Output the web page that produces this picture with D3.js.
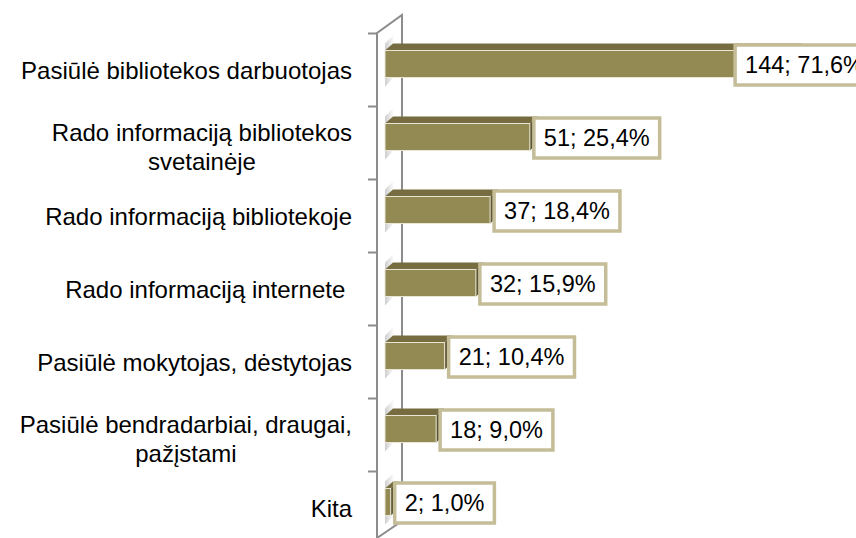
<!DOCTYPE html>
<html>
<head>
<meta charset="utf-8">
<script src="https://cdn.jsdelivr.net/npm/d3@7"></script>
<style>
  body { margin: 0; background: #fff; }
  text { font-family: "Liberation Sans", Arial, sans-serif; white-space: pre; }
</style>
</head>
<body>
<div id="chart"></div>
<script>
const categories = [
    ["Pasiūlė bibliotekos darbuotojas"],
    ["Rado informaciją bibliotekos", "svetainėje"],
    ["Rado informaciją bibliotekoje"],
    ["Rado informaciją internete "],
    ["Pasiūlė mokytojas, dėstytojas"],
    ["Pasiūlė bendradarbiai, draugai,", "pažįstami"],
    ["Kita"]
];
const counts = [144, 51, 37, 32, 21, 18, 2];
const percents = ["71,6%", "25,4%", "18,4%", "15,9%", "10,4%", "9,0%", "1,0%"];

const width = 856;
const height = 538;
const depthX = 8, depthY = 7;

const data = counts.map((c, i) => ({
    key: i,
    lines: categories[i],
    count: c,
    label: `${c}; ${percents[i]}`
}));

const x = d3.scaleLinear().domain([0, 150]).range([385, 811]);
const y = d3.scaleBand()
    .domain(data.map((d) => d.key))
    .range([27.5, 538.5])
    .paddingInner(0.63)
    .paddingOuter(0.315);

const svg = d3.select("#chart")
    .append("svg")
    .attr("width", width)
    .attr("height", height);

const defs = svg.append("defs");
const shade = defs.append("linearGradient")
    .attr("id", "wallShade")
    .attr("x1", "0").attr("x2", "1").attr("y1", "0").attr("y2", "0");
shade.append("stop").attr("offset", "0").attr("stop-color", "#b8b8b8");
shade.append("stop").attr("offset", "1").attr("stop-color", "#ffffff");

// 3D wall of the category axis
const wall = svg.append("g")
    .attr("stroke", "#8c8c8c")
    .attr("stroke-width", 2)
    .attr("fill", "none");
wall.append("path").attr("d", "M377,538 L377,33 L402,15 L402,521 L377,538");

// ticks between categories
const ticks = d3.range(data.length).map((i) => y.range()[0] + y.step() * i + 6);
wall.selectAll(".tick")
    .data(ticks)
    .enter()
    .append("line")
    .attr("x1", 368).attr("x2", 377)
    .attr("y1", (d) => d).attr("y2", (d) => d);

// soft shadows on the wall next to each bar
svg.selectAll(".shadow")
    .data(data)
    .enter()
    .append("path")
    .attr("fill", "url(#wallShade)")
    .attr("opacity", 0.7)
    .attr("d", (d) => {
        const y0 = y(d.key) - depthY - 9;
        const y1 = y(d.key) + y.bandwidth() + 9;
        return `M385,${y0 + 9} L394,${y0} L394,${y1 - 9} L385,${y1} Z`;
    });

// bars
const bars = svg.selectAll(".bar")
    .data(data)
    .enter()
    .append("g")
    .attr("class", "bar");

bars.append("path")
    .attr("fill", "#766c40")
    .attr("d", (d) => {
        const x0 = x(0), x1 = x(d.count), y0 = y(d.key);
        return `M${x0},${y0} L${x0 + depthX},${y0 - depthY} L${x1 + depthX},${y0 - depthY} L${x1},${y0} Z`;
    });

bars.append("path")
    .attr("fill", "#5f5733")
    .attr("d", (d) => {
        const x1 = x(d.count), y0 = y(d.key), h = y.bandwidth();
        return `M${x1},${y0} L${x1 + depthX},${y0 - depthY} L${x1 + depthX},${y0 + h - depthY} L${x1},${y0 + h} Z`;
    });

bars.append("rect")
    .attr("x", x(0))
    .attr("y", (d) => y(d.key))
    .attr("width", (d) => x(d.count) - x(0))
    .attr("height", y.bandwidth())
    .attr("fill", "#938953")
    .attr("stroke", "#e9e6d6")
    .attr("stroke-width", 1);

// category labels
const labels = svg.selectAll(".cat")
    .data(data)
    .enter()
    .append("text")
    .attr("class", "cat")
    .style("font-size", "24px")
    .attr("fill", "#000");

labels.each(function (d) {
    const t = d3.select(this);
    const cy = y(d.key) + y.bandwidth() / 2 + (d.lines.length > 1 ? 10 : 7);
    const lineH = 29;
    d.lines.forEach((line, j) => {
        t.append("tspan")
            .attr("x", 0)
            .attr("y", cy + (j - (d.lines.length - 1) / 2) * lineH)
            .attr("dy", "0.35em")
            .text(line);
    });
    const w = d3.max(t.selectAll("tspan").nodes(), (n) => n.getComputedTextLength());
    t.selectAll("tspan")
        .attr("x", 352 - w / 2)
        .attr("text-anchor", "middle");
});

// value labels in boxes
const vl = svg.selectAll(".val")
    .data(data)
    .enter()
    .append("g")
    .attr("class", "val");

vl.each(function (d) {
    const g = d3.select(this);
    const rect = g.append("rect");
    const txt = g.append("text")
        .style("font-size", "23.5px")
        .attr("fill", "#000")
        .attr("dy", "0.35em")
        .text(d.label);
    const tw = txt.node().getComputedTextLength();
    const bw = tw + 20, bh = 40;
    const cy = y(d.key) + y.bandwidth() / 2 + 1;
    const bx = Math.min(x(d.count) + 4, width - bw + 18);
    rect.attr("x", bx)
        .attr("y", cy - bh / 2)
        .attr("width", bw)
        .attr("height", bh)
        .attr("fill", "#fff")
        .attr("stroke", "#c4bd97")
        .attr("stroke-width", 3.5);
    txt.attr("x", bx + 10).attr("y", cy);
});
</script>
</body>
</html>
